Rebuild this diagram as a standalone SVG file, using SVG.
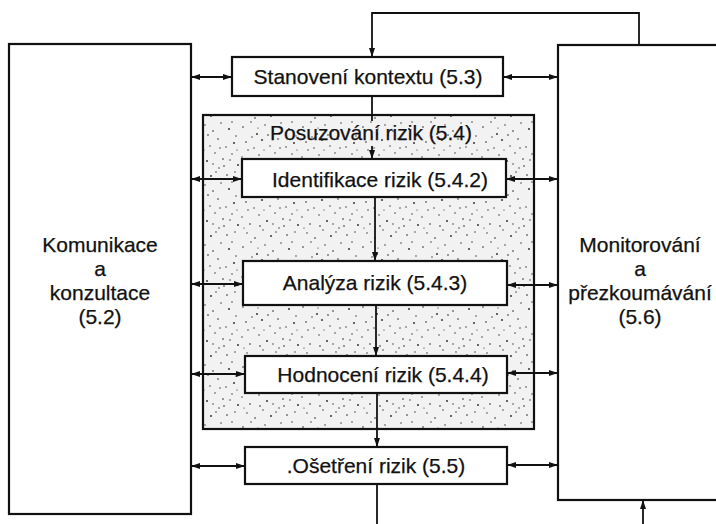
<svg xmlns="http://www.w3.org/2000/svg" width="716" height="524" viewBox="0 0 716 524">
<style>
.box{fill:#fff;stroke:#111;stroke-width:2.2}
.t{font-family:"Liberation Sans",Arial,Helvetica,sans-serif;font-size:21px;fill:#111;stroke:#111;stroke-width:0.25;text-anchor:middle}
.c{fill:none;stroke:#111;stroke-width:1.8}
.one{marker-end:url(#ah)}
.two{marker-start:url(#ah);marker-end:url(#ah)}
</style>
<defs>
<marker id="ah" viewBox="0 0 9 6" refX="9" refY="3" markerWidth="9" markerHeight="6" markerUnits="userSpaceOnUse" orient="auto-start-reverse">
<path d="M0,0 L9,3 L0,6 z" fill="#111"/>
</marker>
<pattern id="stipple" width="60" height="60" patternUnits="userSpaceOnUse">
<rect width="60" height="60" fill="#f2f2f2"/>
<g fill="#222">
<circle cx="3" cy="7" r="0.8"/><circle cx="11" cy="2" r="0.7"/><circle cx="17" cy="14" r="0.9"/><circle cx="25" cy="5" r="0.7"/>
<circle cx="33" cy="11" r="0.8"/><circle cx="41" cy="3" r="0.7"/><circle cx="49" cy="9" r="0.9"/><circle cx="56" cy="16" r="0.7"/>
<circle cx="6" cy="22" r="0.8"/><circle cx="14" cy="28" r="0.7"/><circle cx="22" cy="20" r="0.9"/><circle cx="30" cy="26" r="0.7"/>
<circle cx="38" cy="19" r="0.8"/><circle cx="46" cy="27" r="0.7"/><circle cx="54" cy="23" r="0.9"/><circle cx="2" cy="37" r="0.7"/>
<circle cx="10" cy="44" r="0.8"/><circle cx="19" cy="35" r="0.7"/><circle cx="27" cy="41" r="0.9"/><circle cx="35" cy="33" r="0.7"/>
<circle cx="43" cy="39" r="0.8"/><circle cx="52" cy="34" r="0.7"/><circle cx="58" cy="45" r="0.9"/><circle cx="7" cy="53" r="0.7"/>
<circle cx="15" cy="58" r="0.8"/><circle cx="23" cy="50" r="0.7"/><circle cx="31" cy="56" r="0.9"/><circle cx="39" cy="48" r="0.7"/>
<circle cx="47" cy="55" r="0.8"/><circle cx="55" cy="52" r="0.7"/><circle cx="28" cy="15" r="0.8"/><circle cx="44" cy="46" r="0.8"/>
<circle cx="12" cy="17" r="0.7"/><circle cx="36" cy="52" r="0.7"/><circle cx="50" cy="40" r="0.7"/><circle cx="20" cy="46" r="0.8"/>
<circle cx="8" cy="30" r="0.7"/><circle cx="40" cy="28" r="0.7"/><circle cx="24" cy="30" r="0.6"/><circle cx="52" cy="2" r="0.7"/>
<circle cx="4" cy="48" r="0.6"/><circle cx="33" cy="44" r="0.7"/><circle cx="57" cy="30" r="0.6"/><circle cx="18" cy="8" r="0.6"/>
</g>
</pattern>
</defs>

<g id="komunikace">
<rect class="box" x="9" y="44" width="182" height="470"/>
<text class="t" x="100" y="252">Komunikace</text>
<text class="t" x="100" y="276">a</text>
<text class="t" x="100" y="300">konzultace</text>
<text class="t" x="100" y="324">(5.2)</text>
</g>

<g id="monitorovani">
<rect class="box" x="558" y="45" width="170" height="455"/>
<text class="t" x="640" y="252">Monitorování</text>
<text class="t" x="640" y="276">a</text>
<text class="t" x="640" y="300">přezkoumávání</text>
<text class="t" x="640" y="324">(5.6)</text>
</g>

<g id="posuzovani">
<rect x="203" y="115" width="331" height="314" fill="url(#stipple)" stroke="#111" stroke-width="2.2"/>
<text class="t" x="371" y="140">Posuzování rizik (5.4)</text>
</g>

<g id="connectors">
<path class="c one" d="M639,45 V13 H372 V57"/>
<path class="c" d="M372,96 V121"/>
<path class="c one" d="M372,146 V159"/>
<path class="c one" d="M375,197 V261"/>
<path class="c one" d="M376,305 V356"/>
<path class="c one" d="M377,393 V447"/>
<path class="c one" d="M377,484 V530 H643 V500"/>
<path class="c two" d="M191,77 H232"/>
<path class="c two" d="M191,179 H242"/>
<path class="c two" d="M191,284 H243"/>
<path class="c two" d="M191,374 H245"/>
<path class="c two" d="M191,466 H245"/>
<path class="c two" d="M503,77 H558"/>
<path class="c two" d="M506,179 H558"/>
<path class="c two" d="M507,285 H558"/>
<path class="c two" d="M507,373 H558"/>
<path class="c two" d="M507,465 H558"/>
</g>

<g id="stanoveni">
<rect class="box" x="232" y="57" width="271" height="39"/>
<text class="t" x="368" y="84">Stanovení kontextu (5.3)</text>
</g>

<g id="identifikace">
<rect class="box" x="242" y="159" width="264" height="38"/>
<text class="t" x="380" y="187">Identifikace rizik (5.4.2)</text>
</g>

<g id="analyza">
<rect class="box" x="243" y="261" width="264" height="44"/>
<text class="t" x="375" y="290">Analýza rizik (5.4.3)</text>
</g>

<g id="hodnoceni">
<rect class="box" x="245" y="356" width="262" height="37"/>
<text class="t" x="383" y="382">Hodnocení rizik (5.4.4)</text>
</g>

<g id="osetreni">
<rect class="box" x="245" y="447" width="262" height="37"/>
<text class="t" x="376" y="473">.Ošetření rizik (5.5)</text>
</g>
</svg>
